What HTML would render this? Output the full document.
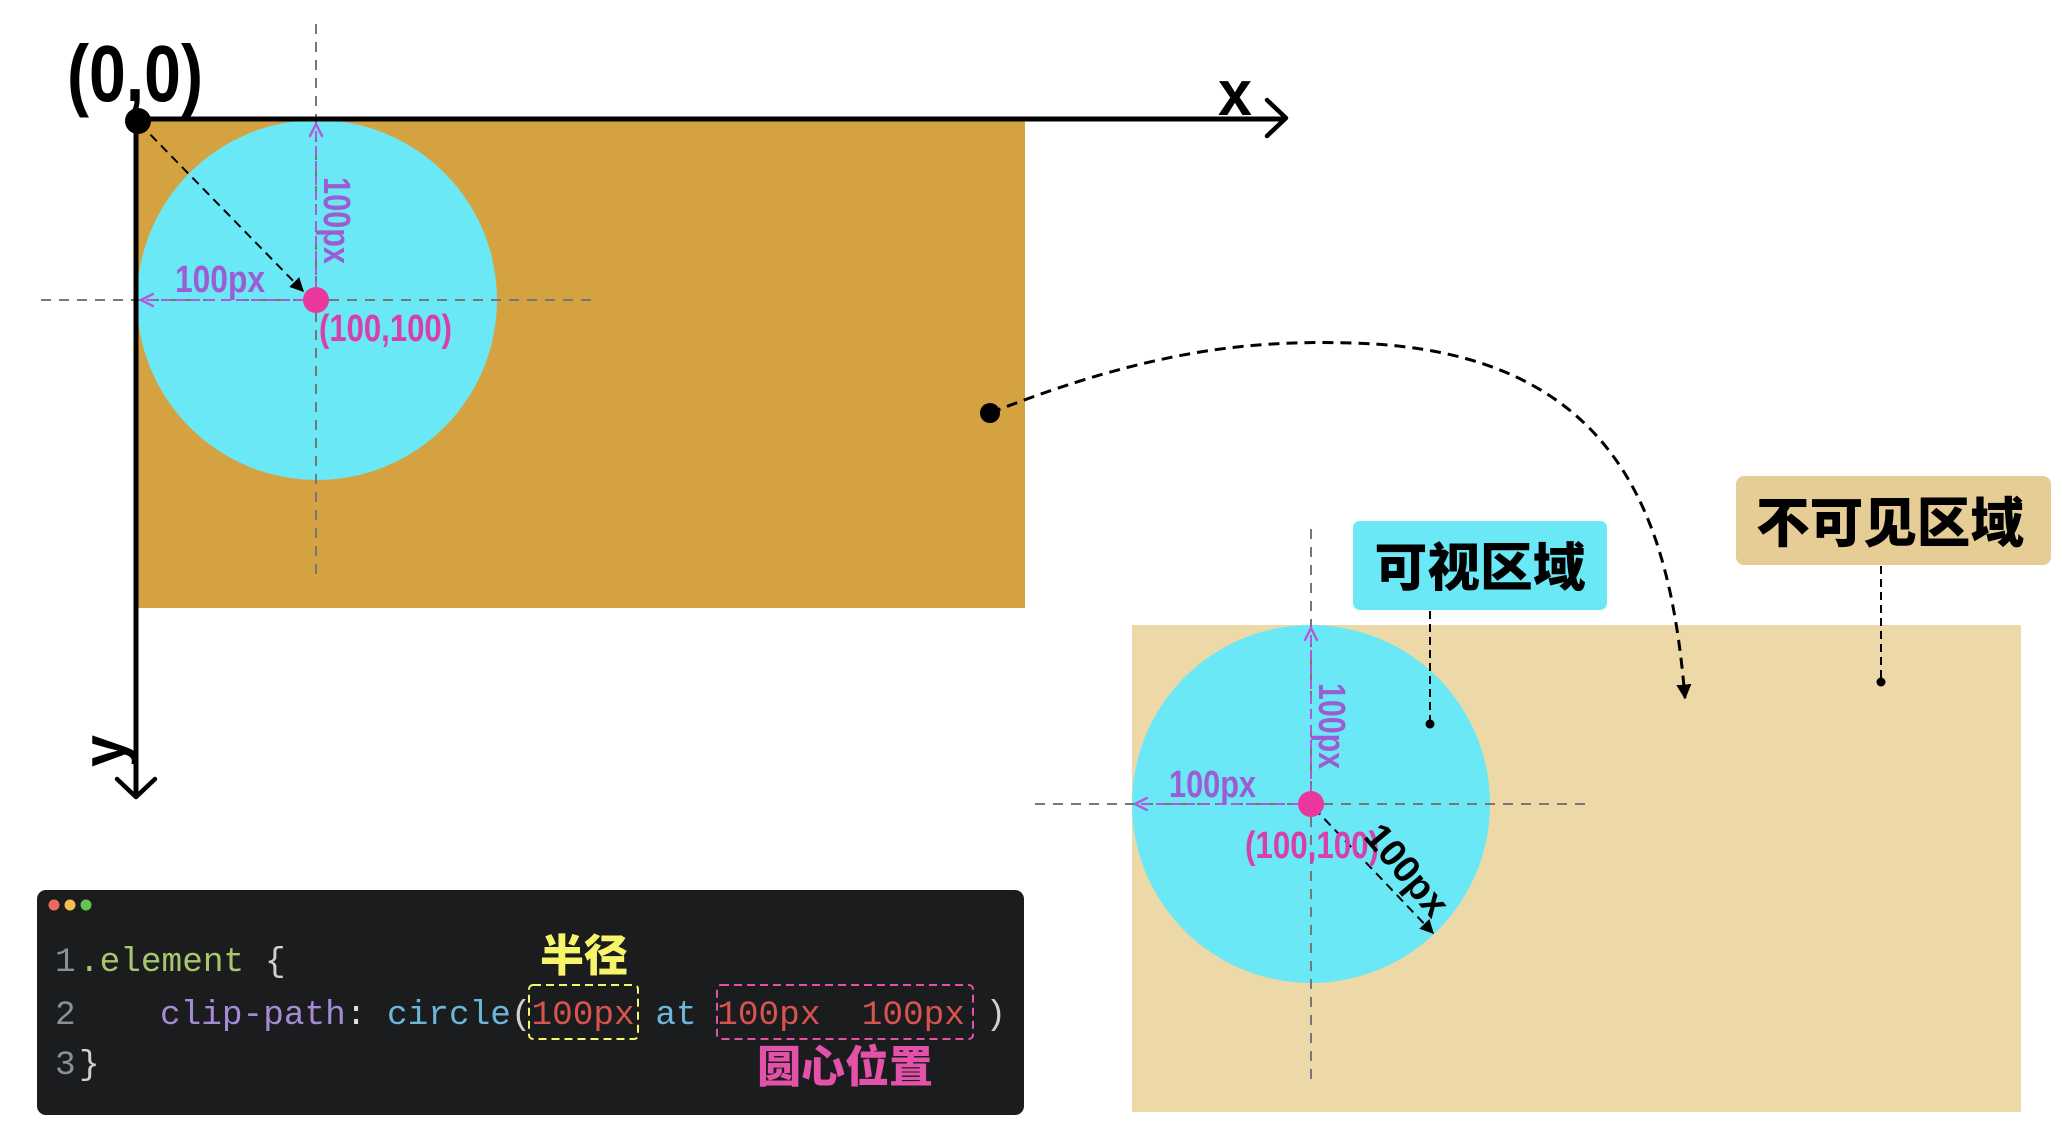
<!DOCTYPE html>
<html><head><meta charset="utf-8"><style>
html,body{margin:0;padding:0;background:#fff;}
svg{display:block;}
.cond{font-family:"Liberation Sans Narrow","Liberation Sans",sans-serif;font-weight:bold;}
.cjk{font-family:"Liberation Sans","Noto Sans CJK SC",sans-serif;font-weight:900;}
.mono{font-family:"Liberation Mono",monospace;font-size:34.4px;}
</style></head><body>
<svg width="2062" height="1140" viewBox="0 0 2062 1140" xmlns="http://www.w3.org/2000/svg">
<defs>
<marker id="ab" viewBox="0 0 10 10" refX="9" refY="5" markerWidth="7" markerHeight="7" orient="auto"><path d="M0,0 L10,5 L0,10 z" fill="#000"/></marker>
<marker id="ap" viewBox="0 0 10 10" refX="9" refY="5" markerWidth="8" markerHeight="8" orient="auto"><path d="M1,1 L9,5 L1,9" fill="none" stroke="#b05ad8" stroke-width="1.5"/></marker>
<marker id="abig" viewBox="0 0 10 10" refX="9" refY="5" markerWidth="5" markerHeight="5" orient="auto"><path d="M0,0 L10,5 L0,10 z" fill="#000"/></marker>
</defs>

<!-- left panel -->
<rect x="138" y="121" width="887" height="487" fill="#d4a241"/>
<circle cx="317" cy="300" r="180" fill="#6be8f5"/>
<line x1="41" y1="300" x2="593" y2="300" stroke="#777" stroke-width="2" stroke-dasharray="10,8"/>
<line x1="316" y1="24" x2="316" y2="578" stroke="#777" stroke-width="2" stroke-dasharray="10,8"/>
<line x1="305" y1="300" x2="141" y2="300" stroke="#b05ad8" stroke-width="2" stroke-dasharray="9,6" marker-end="url(#ap)"/>
<line x1="316" y1="290" x2="316" y2="124" stroke="#b05ad8" stroke-width="2" stroke-dasharray="9,6" marker-end="url(#ap)"/>
<line x1="140" y1="124" x2="303" y2="291" stroke="#000" stroke-width="2" stroke-dasharray="9,6" marker-end="url(#ab)"/>
<!-- axes -->
<line x1="136" y1="119" x2="1285" y2="119" stroke="#000" stroke-width="5"/>
<path d="M1267,100 L1286,118 L1267,136" fill="none" stroke="#000" stroke-width="4.5" stroke-linecap="round" stroke-linejoin="round"/>
<line x1="136" y1="121" x2="136" y2="796" stroke="#000" stroke-width="5"/>
<path d="M117,779 L136,797 L155,779" fill="none" stroke="#000" stroke-width="4.5" stroke-linecap="round" stroke-linejoin="round"/>
<circle cx="138" cy="121" r="13" fill="#000"/>
<circle cx="316" cy="300" r="13" fill="#e8389e"/>
<text x="67" y="101" class="cond" font-size="80" textLength="136" lengthAdjust="spacingAndGlyphs">(0,0)</text>
<text x="1218" y="115" class="cond" font-size="64" textLength="34" lengthAdjust="spacingAndGlyphs">x</text>
<text transform="translate(125,767) rotate(-90)" class="cond" font-size="62" textLength="32" lengthAdjust="spacingAndGlyphs">y</text>
<text x="175" y="292" class="cond" font-size="38" fill="#9c5cd4" textLength="90" lengthAdjust="spacingAndGlyphs">100px</text>
<text transform="translate(324,177) rotate(90)" class="cond" font-size="38" fill="#9c5cd4" textLength="87" lengthAdjust="spacingAndGlyphs">100px</text>
<text x="319" y="341" class="cond" font-size="38" fill="#d93fa8" textLength="133" lengthAdjust="spacingAndGlyphs">(100,100)</text>
<circle cx="990" cy="413" r="10" fill="#000"/>

<!-- right panel -->
<rect x="1132" y="625" width="889" height="487" fill="#edd8a8"/>
<circle cx="1311" cy="804" r="179" fill="#6be8f5"/>
<line x1="1035" y1="804" x2="1588" y2="804" stroke="#777" stroke-width="2" stroke-dasharray="10,8"/>
<line x1="1311" y1="529" x2="1311" y2="1080" stroke="#777" stroke-width="2" stroke-dasharray="10,8"/>
<line x1="1300" y1="804" x2="1135" y2="804" stroke="#b05ad8" stroke-width="2" stroke-dasharray="9,6" marker-end="url(#ap)"/>
<line x1="1311" y1="794" x2="1311" y2="628" stroke="#b05ad8" stroke-width="2" stroke-dasharray="9,6" marker-end="url(#ap)"/>
<line x1="1314" y1="808" x2="1433" y2="933" stroke="#000" stroke-width="2" stroke-dasharray="9,6" marker-end="url(#ab)"/>
<circle cx="1311" cy="804" r="13" fill="#e8389e"/>
<text x="1169" y="797" class="cond" font-size="38" fill="#9c5cd4" textLength="87" lengthAdjust="spacingAndGlyphs">100px</text>
<text transform="translate(1319,683) rotate(90)" class="cond" font-size="38" fill="#9c5cd4" textLength="86" lengthAdjust="spacingAndGlyphs">100px</text>
<text x="1245" y="858" class="cond" font-size="38" fill="#d93fa8" textLength="134" lengthAdjust="spacingAndGlyphs">(100,100)</text>
<text transform="translate(1407,870) rotate(50)" class="cond" font-size="38" fill="#000" text-anchor="middle" dy="13">100px</text>

<!-- curve -->
<path d="M990,413 C1150,350 1250,340 1352,343 C1620,350 1670,520 1685,698" fill="none" stroke="#000" stroke-width="3" stroke-dasharray="11,7" marker-end="url(#abig)"/>

<rect x="1353" y="521" width="254" height="89" rx="7" fill="#6be8f5"/>
<text x="1480" y="586" class="cjk" font-size="52" text-anchor="middle" textLength="211" lengthAdjust="spacingAndGlyphs">可视区域</text>
<line x1="1430" y1="611" x2="1430" y2="722" stroke="#000" stroke-width="2" stroke-dasharray="8,5"/>
<circle cx="1430" cy="724" r="4.5" fill="#000"/>
<rect x="1736" y="476" width="315" height="89" rx="8" fill="#e6cd96"/>
<text x="1890" y="542" class="cjk" font-size="54" text-anchor="middle" textLength="268" lengthAdjust="spacingAndGlyphs">不可见区域</text>
<line x1="1881" y1="566" x2="1881" y2="680" stroke="#000" stroke-width="2" stroke-dasharray="8,5"/>
<circle cx="1881" cy="682" r="4.5" fill="#000"/>

<!-- code block -->
<rect x="37" y="890" width="987" height="225" rx="9" fill="#1b1c1e"/>
<circle cx="54" cy="905" r="5.5" fill="#ed6a5e"/>
<circle cx="70" cy="905" r="5.5" fill="#f4bf4f"/>
<circle cx="86" cy="905" r="5.5" fill="#61c554"/>
<text y="971" class="mono" xml:space="preserve"><tspan x="55" fill="#8a8f98">1</tspan><tspan x="79" fill="#a8c66c">.element</tspan><tspan x="265" fill="#d0d0d0">{</tspan></text>
<text y="1024" class="mono" xml:space="preserve"><tspan x="55" fill="#8a8f98">2</tspan><tspan x="160" fill="#a58bd6">clip-path</tspan><tspan fill="#e0e0e0">: </tspan><tspan fill="#6cb6d9">circle</tspan><tspan fill="#d0d0d0">(</tspan><tspan fill="#d9534f">100px</tspan><tspan fill="#d0d0d0"> </tspan><tspan fill="#6cb6d9">at</tspan><tspan fill="#d0d0d0"> </tspan><tspan fill="#d9534f">100px  100px</tspan><tspan fill="#d0d0d0"> )</tspan></text>
<text y="1074" class="mono" xml:space="preserve"><tspan x="55" fill="#8a8f98">3</tspan><tspan x="79" fill="#d0d0d0">}</tspan></text>
<rect x="529" y="985" width="109" height="54" rx="4" fill="none" stroke="#f7f56a" stroke-width="2" stroke-dasharray="8,5"/>
<rect x="717" y="985" width="256" height="54" rx="4" fill="none" stroke="#e352a8" stroke-width="2" stroke-dasharray="8,5"/>
<text x="584" y="971" class="cjk" font-size="44" fill="#f7f56a" text-anchor="middle">半径</text>
<text x="845" y="1082" class="cjk" font-size="44" fill="#e352a8" text-anchor="middle">圆心位置</text>
</svg>
</body></html>
